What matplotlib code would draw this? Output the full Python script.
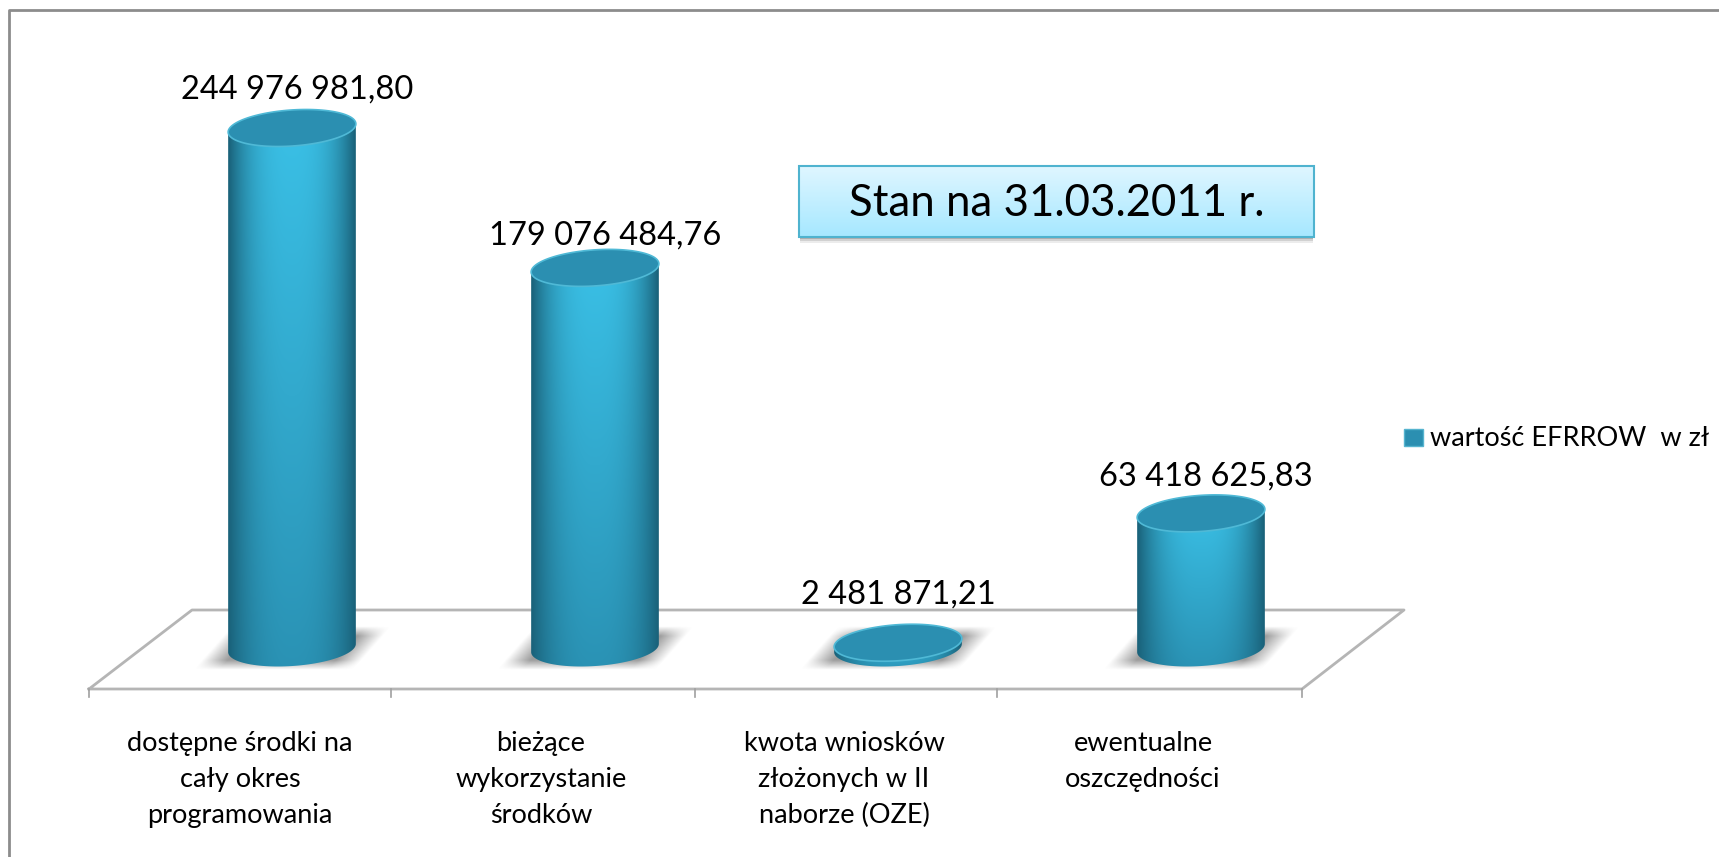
import numpy as np
import matplotlib
matplotlib.use('Agg')
import matplotlib.pyplot as plt
from matplotlib.patches import PathPatch, Rectangle
from matplotlib.path import Path

# dane
kategorie = ['dostępne środki na\ncały okres\nprogramowania',
             'bieżące\nwykorzystanie\nśrodków',
             'kwota wniosków\nzłożonych w II\nnaborze (OZE)',
             'ewentualne\noszczędności']
wartosci = [244976981.80, 179076484.76, 2481871.21, 63418625.83]
etykiety = ['244 976 981,80', '179 076 484,76', '2 481 871,21', '63 418 625,83']
legenda = 'wartość EFRROW  w zł'
napis = 'Stan na 31.03.2011 r.'

W, H = 1719, 857
plt.rcParams['font.family'] = ['Lato', 'DejaVu Sans']

fig = plt.figure(figsize=(W / 100, H / 100), dpi=100)
# os w pikselach obrazka - tlo, podloga, ramka
ax = fig.add_axes([0, 0, 1, 1])
ax.set_xlim(0, W)
ax.set_ylim(H, 0)
ax.axis('off')

# os danych: x = numer kategorii, y = wartosc w zl
y0_px, y1_px = 648, 128
skala = (y0_px - y1_px) / wartosci[0]
x0_px, dx_px = 292, 303
ax2 = fig.add_axes([0, 0, 1, 1], facecolor='none')
ax2.set_xlim(-x0_px / dx_px, (W - x0_px) / dx_px)
ax2.set_ylim(-(H - y0_px) / skala, y0_px / skala)
ax2.axis('off')
ax2.set_autoscale_on(False)
ax.set_autoscale_on(False)

# ramka
ax.plot([9, 9, W], [H, 10, 10], color='#8c8c8c', lw=2, zorder=1)

# podloga
szary = '#b5b5b5'
ax.plot([89, 192, 1404, 1302, 89], [689, 610, 610, 689, 689], color=szary, lw=2, zorder=1)
for x in [89, 391, 695, 997, 1302]:
    ax.plot([x, x], [689, 697], color='#a0a0a0', lw=1.2, zorder=1)


def cien(xc, rx):
    # rozmyty cien pod walcem, pochylony w prawo
    xx, yy = np.meshgrid(np.linspace(-1.6, 1.6, 200), np.linspace(-1, 1, 60))
    xs = xx + 0.3 * yy
    a = np.clip((1.25 - np.abs(xs)) / 0.4, 0, 1) * np.clip((1 - np.abs(yy)) / 0.45, 0, 1) * 0.7
    img = np.zeros(a.shape + (4,))
    img[..., :3] = 0.45
    img[..., 3] = a
    ax.imshow(img, extent=[xc - rx * 1.6, xc + rx * 1.6, 670, 626], aspect='auto',
              interpolation='bilinear', zorder=2)


def elipsa(i, v, fi, ry):
    # punkty pochylonej elipsy w jednostkach danych
    rx, t = 64, np.radians(4)
    u, w = rx * np.cos(fi), ry * np.sin(fi)
    dx = u * np.cos(t) + w * np.sin(t)
    dy = -u * np.sin(t) + w * np.cos(t)
    return np.c_[i + dx / dx_px, v - dy / skala]


def walec(i, v):
    pol = np.linspace(np.pi, 0, 60)
    verts = np.r_[elipsa(i, 0, pol, 18), elipsa(i, v, pol[::-1], 18)]
    bok = PathPatch(Path(np.r_[verts, verts[:1]], closed=True), fc='none', ec='none')
    ax2.add_patch(bok)
    # gradient boku
    xx, yy = np.meshgrid(np.linspace(-1, 1, 61), np.linspace(1, 0, 120))
    jasn = np.clip(1 - np.abs(xx) ** 2.6, 0, 1)[..., None]
    ciemny = np.array([0x1a, 0x62, 0x7a]) / 255
    jasny_d = np.array([0x2a, 0x92, 0xb4]) / 255
    jasny_g = np.array([0x3a, 0xc0, 0xe6]) / 255
    sr = jasny_d + (jasny_g - jasny_d) * yy[..., None]
    img = ciemny + (sr - ciemny) * jasn
    rx = 64 / dx_px
    im = ax2.imshow(img, extent=[i - rx, i + rx, -24 / skala, v + 8 / skala], origin='upper',
                    aspect='auto', interpolation='bilinear', zorder=3)
    im.set_clip_path(bok)
    # gorna pokrywa
    cap = elipsa(i, v, np.linspace(0, 2 * np.pi, 120), 18)
    ax2.fill(cap[:, 0], cap[:, 1], fc='#2b8fb1', ec='#4fb9d6', lw=1.2, zorder=4)


for i, v in enumerate(wartosci):
    cien(x0_px + dx_px * i, 64)
    walec(i, v)

# etykiety wartosci
etyk_x = [297, 605, 898, 1206]
etyk_y = [90, 236, 595, 477]
for x, y, e in zip(etyk_x, etyk_y, etykiety):
    ax.text(x, y, e, fontsize=23.5, ha='center', va='center', color='black', zorder=6)

# podpisy kategorii
kat_x = [240, 541, 844, 1143]
for x, k in zip(kat_x, kategorie):
    ax.text(x, 731, k, fontsize=19.5, ha='center', va='top', linespacing=1.55, color='black', zorder=6)

# legenda
ax.add_patch(Rectangle((1404, 429), 19, 17, fc='#2b8fb1', ec='#56b4cf', lw=1, zorder=5))
ax.text(1430, 438, legenda, fontsize=19.5, ha='left', va='center', color='black', zorder=6)

# ramka z data
grad = np.linspace(0, 1, 60)[:, None, None]
g1, g2 = np.array([0xdf, 0xf6, 0xff]) / 255, np.array([0xa6, 0xe8, 0xff]) / 255
for d, al in [(2, 0.3), (4, 0.2), (6, 0.12)]:
    ax.add_patch(Rectangle((800, 170), 513, 67 + d, fc='#666666', ec='none', alpha=al, zorder=4))
ax.imshow(g1 + (g2 - g1) * grad, extent=[799, 1314, 237, 166], aspect='auto', origin='upper', zorder=5)
ax.add_patch(Rectangle((799, 166), 515, 71, fc='none', ec='#4fb3cf', lw=1.5, zorder=6))
ax.text(1057, 203, napis, fontsize=31.5, ha='center', va='center', color='black', zorder=7)

fig.savefig('out.png', dpi=100, facecolor='white')
